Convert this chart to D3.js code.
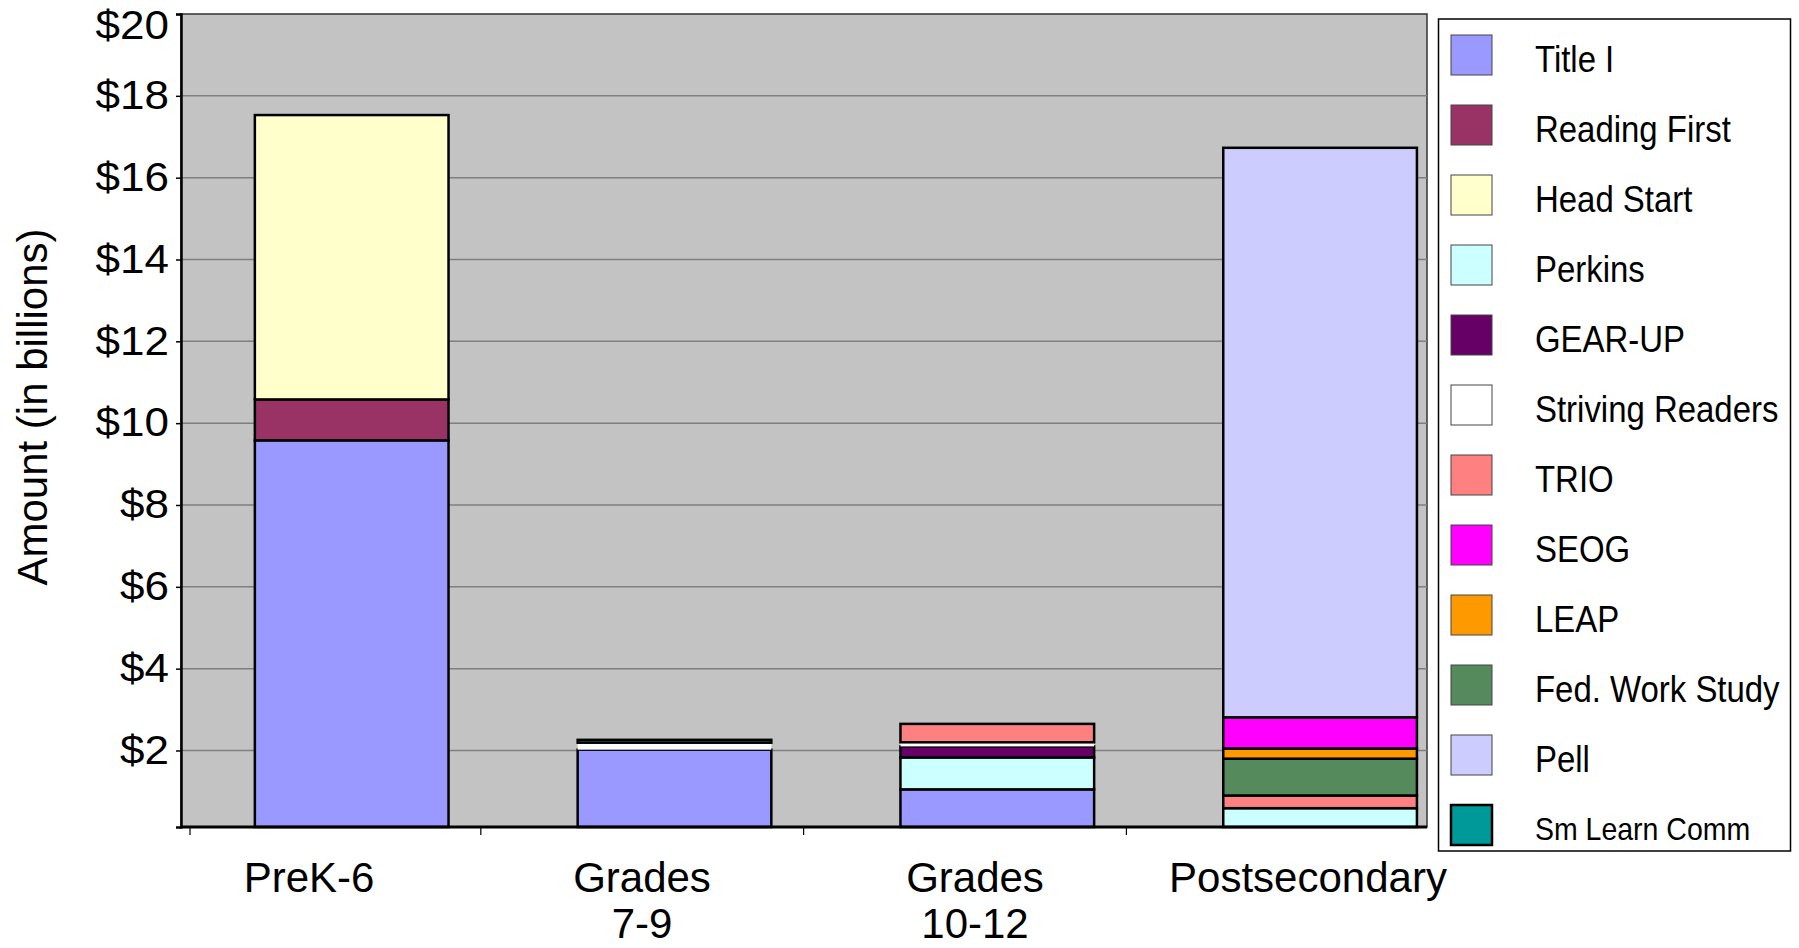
<!DOCTYPE html>
<html>
<head>
<meta charset="utf-8">
<script src="https://cdnjs.cloudflare.com/ajax/libs/d3/7.8.5/d3.min.js"></script>
<style>
    body { margin: 0; background: #fff; }
    svg text { font-family: "Liberation Sans", Arial, sans-serif; fill: #000; }
</style>
</head>
<body>
<svg id="canvas"></svg>
<script>
// Categories and tick labels
const categories = ['PreK-6', 'Grades 7-9', 'Grades 10-12', 'Postsecondary']
const categoryLines = [['PreK-6'], ['Grades', '7-9'], ['Grades', '10-12'], ['Postsecondary']]
const yTicks = [2, 4, 6, 8, 10, 12, 14, 16, 18, 20]

// Programs, bottom to top of each stack
const programs = ['Title I', 'Reading First', 'Head Start', 'Perkins', 'GEAR-UP', 'Striving Readers',
    'TRIO', 'Fed. Work Study', 'LEAP', 'SEOG', 'Pell', 'Sm Learn Comm']
// Order in the legend box
const legendOrder = ['Title I', 'Reading First', 'Head Start', 'Perkins', 'GEAR-UP', 'Striving Readers',
    'TRIO', 'SEOG', 'LEAP', 'Fed. Work Study', 'Pell', 'Sm Learn Comm']

// Amounts in billions, one value per category
const titleI = [9.58, 2.02, 1.05, 0]
const readingFirst = [1.0, 0, 0, 0]
const headStart = [6.95, 0, 0, 0]
const perkins = [0, 0, 0.78, 0.59]
const gearUp = [0, 0, 0.27, 0]
const strivingReaders = [0, 0.17, 0.1, 0]
const trio = [0, 0, 0.45, 0.31]
const workStudy = [0, 0, 0, 0.9]
const leap = [0, 0, 0, 0.25]
const seog = [0, 0, 0, 0.76]
const pell = [0, 0, 0, 13.92]
const smLearnComm = [0, 0.07, 0, 0]

const seriesValues = {
    'Title I': titleI, 'Reading First': readingFirst, 'Head Start': headStart, 'Perkins': perkins,
    'GEAR-UP': gearUp, 'Striving Readers': strivingReaders, 'TRIO': trio, 'Fed. Work Study': workStudy,
    'LEAP': leap, 'SEOG': seog, 'Pell': pell, 'Sm Learn Comm': smLearnComm
}

const colors = {
    'Title I': '#9999ff', 'Reading First': '#993366', 'Head Start': '#ffffcc', 'Perkins': '#ccffff',
    'GEAR-UP': '#660066', 'Striving Readers': '#ffffff', 'TRIO': '#ff8080', 'SEOG': '#ff00ff',
    'LEAP': '#ff9900', 'Fed. Work Study': '#558a5c', 'Pell': '#ccccff', 'Sm Learn Comm': '#009999'
}

let width = 1799
let height = 948
let plotLeft = 181
let plotRight = 1427
let plotTop = 14
let plotBottom = 827
let axisFloor = 0.13   // the value axis in the original starts just above zero

let svg = d3.select('#canvas')
    .attr('width', width)
    .attr('height', height)

// Scales
let xScale = d3.scaleBand()
    .domain(categories)
    .range([plotLeft, plotRight])
    .paddingInner(0.4)
    .paddingOuter(0.13)
    .align(0.88)

// category labels sit a little left of their bars in the original
let labelScale = d3.scalePoint()
    .domain(categories)
    .range([309, 1308])

let yScale = d3.scaleLinear()
    .domain([axisFloor, 20])
    .range([plotBottom, plotTop])
    .clamp(true)

// Plot background
svg.append('rect')
    .attr('x', plotLeft)
    .attr('y', plotTop)
    .attr('width', plotRight - plotLeft)
    .attr('height', plotBottom - plotTop)
    .attr('fill', '#c3c3c3')
    .attr('stroke', '#333')
    .attr('stroke-width', 1.5)

// Gridlines
svg.append('g')
    .selectAll('line')
    .data(yTicks.filter(t => t < 20))
    .enter()
    .append('line')
    .attr('x1', plotLeft)
    .attr('x2', plotRight)
    .attr('y1', d => yScale(d))
    .attr('y2', d => yScale(d))
    .attr('stroke', '#7f7f7f')
    .attr('stroke-width', 1.5)

// Stacked bars
let rows = categories.map((c, i) => {
    let row = { category: c }
    programs.forEach(p => { row[p] = seriesValues[p][i] })
    return row
})
let stacked = d3.stack().keys(programs)(rows)

svg.append('g')
    .selectAll('g')
    .data(stacked)
    .enter()
    .append('g')
    .attr('fill', d => colors[d.key])
    .attr('stroke', d => d.key === 'Striving Readers' ? 'none' : '#000')
    .attr('stroke-width', 2.5)
    .selectAll('rect')
    .data(d => d.filter(s => s[1] - s[0] > 0))
    .enter()
    .append('rect')
    .attr('x', d => xScale(d.data.category))
    .attr('width', xScale.bandwidth())
    .attr('y', d => yScale(d[1]))
    .attr('height', d => yScale(d[0]) - yScale(d[1]))

// Y axis
let yAxis = d3.axisLeft(yScale)
    .tickValues(yTicks)
    .tickSize(5)
    .tickPadding(6)
    .tickFormat(d => '$' + d)

let yAxisG = svg.append('g')
    .attr('id', 'y-axis')
    .attr('transform', 'translate(' + plotLeft + ',0)')
    .call(yAxis)
yAxisG.select('.domain').attr('stroke', '#000').attr('stroke-width', 2.5)
yAxisG.selectAll('.tick line').attr('stroke', '#000').attr('stroke-width', 1.5)
yAxisG.selectAll('.tick text')
    .attr('font-size', 40)
    .attr('font-family', '"Liberation Sans", Arial, sans-serif')
    .attr('fill', '#000')
    .attr('transform', 'scale(1.1,1)')
yAxisG.selectAll('.tick').filter(d => d === 20).select('text').attr('dy', '0.6em')

// X axis line and category ticks
svg.append('line')
    .attr('x1', plotLeft - 1)
    .attr('x2', plotRight)
    .attr('y1', plotBottom)
    .attr('y2', plotBottom)
    .attr('stroke', '#000')
    .attr('stroke-width', 3)

let gap = xScale.step() - xScale.bandwidth()
svg.append('g')
    .selectAll('line')
    .data(categories)
    .enter()
    .append('line')
    .attr('x1', d => Math.max(plotLeft + 9, xScale(d) - gap * 0.75))
    .attr('x2', d => Math.max(plotLeft + 9, xScale(d) - gap * 0.75))
    .attr('y1', plotBottom)
    .attr('y2', plotBottom + 8)
    .attr('stroke', '#000')
    .attr('stroke-width', 1.2)

// Category labels
let labels = svg.append('g')
    .selectAll('text')
    .data(categories)
    .enter()
    .append('text')
    .attr('text-anchor', 'middle')
    .attr('font-size', 42)
    .attr('x', d => labelScale(d))
    .attr('y', 892)

labels.selectAll('tspan')
    .data((d, i) => categoryLines[i])
    .enter()
    .append('tspan')
    .attr('x', function () { return d3.select(this.parentNode).attr('x') })
    .attr('dy', (d, i) => i === 0 ? 0 : 46)
    .text(d => d)

// Y axis title
svg.append('text')
    .attr('transform', 'translate(32,407) rotate(-90)')
    .attr('text-anchor', 'middle')
    .attr('dominant-baseline', 'central')
    .attr('font-size', 42)
    .text('Amount (in billions)')

// Legend
let legend = svg.append('g').attr('id', 'legend')
legend.append('rect')
    .attr('x', 1438.5)
    .attr('y', 19)
    .attr('width', 352)
    .attr('height', 832)
    .attr('fill', '#fff')
    .attr('stroke', '#000')
    .attr('stroke-width', 1.5)

let items = legend.selectAll('g.item')
    .data(legendOrder)
    .enter()
    .append('g')
    .attr('class', 'item')
    .attr('transform', (d, i) => 'translate(0,' + (55 + i * 70) + ')')

items.append('rect')
    .attr('x', 1451)
    .attr('y', -20)
    .attr('width', 41)
    .attr('height', 40)
    .attr('fill', d => colors[d])
    .attr('stroke', d => d === 'Sm Learn Comm' ? '#000' : '#444')
    .attr('stroke-width', d => d === 'Sm Learn Comm' ? 2.5 : 1)

items.append('text')
    .attr('transform', 'translate(1535,4) scale(0.89,1)')
    .attr('dominant-baseline', 'central')
    .attr('font-size', d => d === 'Sm Learn Comm' ? 32 : 37)
    .text(d => d)
</script>
</body>
</html>
